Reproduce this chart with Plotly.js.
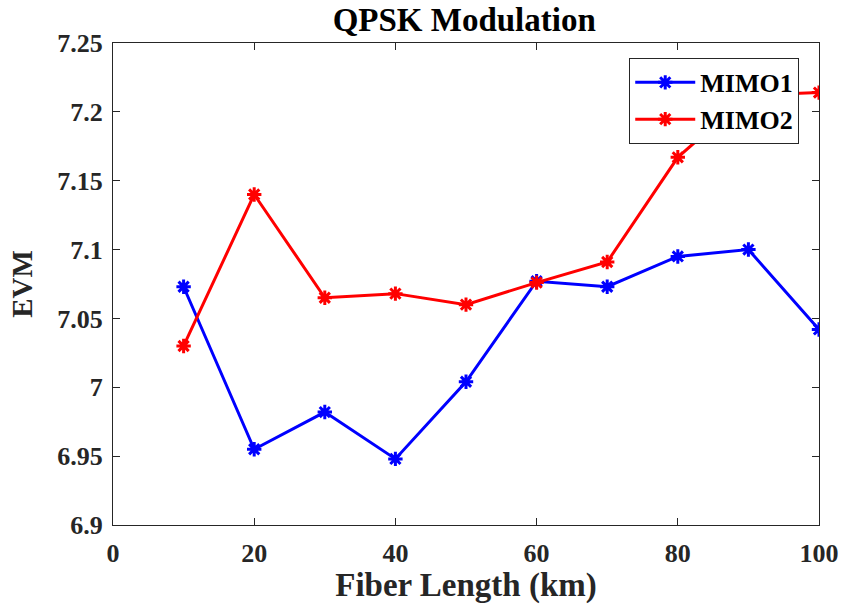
<!DOCTYPE html>
<html>
<head>
<meta charset="utf-8">
<script src="https://cdn.plot.ly/plotly-3.0.1.min.js"></script>
<style>html,body{margin:0;padding:0;background:#fff;}#chart{width:841px;height:604px;}</style>
</head>
<body>
<div id="chart"></div>
<script>
const fiberLength = [10, 20, 30, 40, 50, 60, 70, 80, 90, 100];
const mimo1 = [7.073, 6.955, 6.982, 6.948, 7.004, 7.077, 7.073, 7.095, 7.100, 7.042];
const mimo2 = [7.030, 7.140, 7.065, 7.068, 7.060, 7.076, 7.091, 7.167, 7.212, 7.214];
const xTicks = [0, 20, 40, 60, 80, 100];
const yTicks = [6.9, 6.95, 7, 7.05, 7.1, 7.15, 7.2, 7.25];
const yTickText = ['6.9', '6.95', '7', '7.05', '7.1', '7.15', '7.2', '7.25'];

const font = 'Liberation Serif, Times New Roman, serif';
const bold = s => '<b>' + s + '</b>';

function series(name, y, color) {
  return {
    x: fiberLength, y: y, name: bold(name), type: 'scatter', mode: 'lines+markers',
    line: {color: color, width: 3},
    marker: {symbol: 'asterisk-open', size: 12, color: color, line: {color: color, width: 3}}
  };
}

const axisCommon = {
  showgrid: false, zeroline: false, showline: true, linecolor: '#262626', linewidth: 1,
  mirror: 'ticks', ticks: 'inside', ticklen: 7, tickcolor: '#262626', tickwidth: 1,
  tickfont: {family: font, size: 26, color: '#262626'}
};

const layout = {
  width: 841, height: 604,
  margin: {l: 113, r: 22, t: 43, b: 79},
  paper_bgcolor: '#fff', plot_bgcolor: '#fff',
  title: {text: bold('QPSK Modulation'), font: {family: font, size: 33, color: '#000'}, x: 0.552, xanchor: 'center', y: 0.967, yanchor: 'middle'},
  xaxis: Object.assign({}, axisCommon, {
    range: [0, 100], tickvals: xTicks, ticktext: xTicks.map(String).map(bold),
    ticklabelstandoff: 5,
    title: {text: bold('Fiber Length (km)'), font: {family: font, size: 33, color: '#262626'}, standoff: 6}
  }),
  yaxis: Object.assign({}, axisCommon, {
    range: [6.9, 7.25], tickvals: yTicks, ticktext: yTickText.map(bold),
    ticklabelstandoff: 4,
    title: {text: bold('EVM'), font: {family: font, size: 29, color: '#262626'}, standoff: 16}
  }),
  legend: {
    x: 0.972, y: 0.969, xanchor: 'right', yanchor: 'top',
    bgcolor: '#fff', bordercolor: '#262626', borderwidth: 1,
    font: {family: font, size: 26, color: '#000'},
    itemwidth: 60, tracegroupgap: 0
  },
  showlegend: true
};

Plotly.newPlot('chart', [series('MIMO1', mimo1, '#0000ff'), series('MIMO2', mimo2, '#ff0000')], layout, {displayModeBar: false, staticPlot: true});
</script>
</body>
</html>
